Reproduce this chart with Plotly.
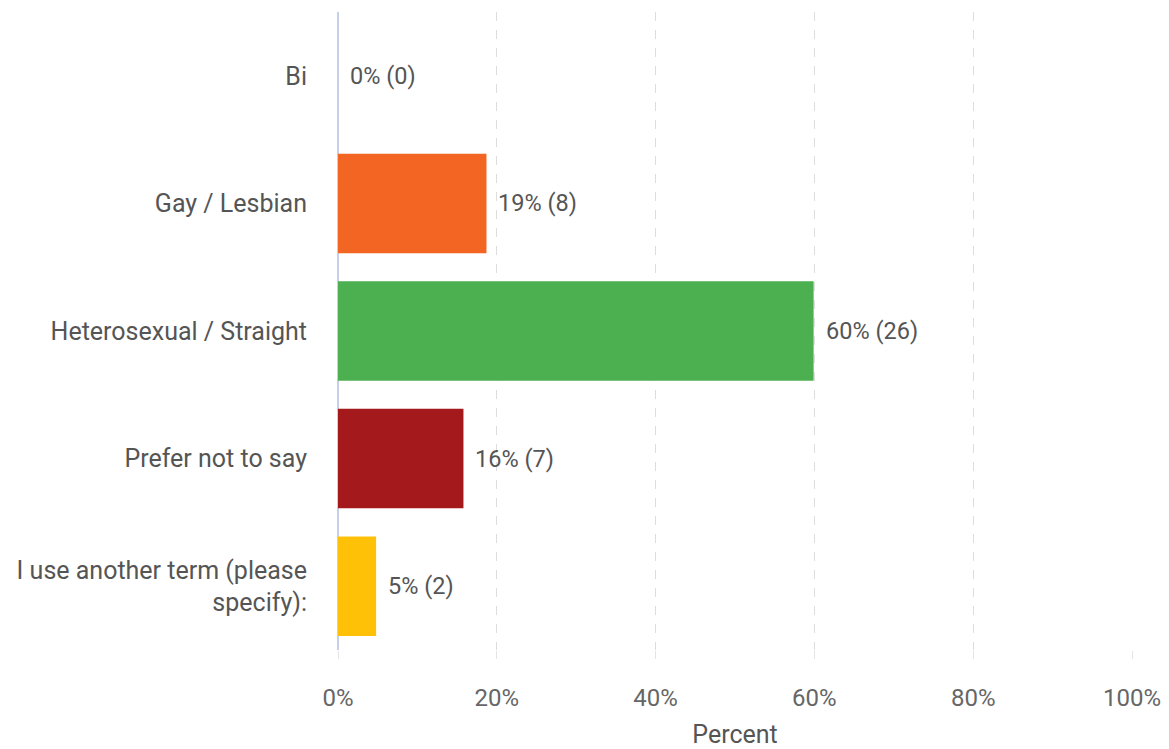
import plotly.graph_objects as go

categories = ["Bi", "Gay / Lesbian", "Heterosexual / Straight", "Prefer not to say",
              "I use another term (please<br>specify):"]
percents = [0.0, 18.7, 59.9, 15.8, 4.8]
counts = [0, 8, 26, 7, 2]
labels = ["0% (0)", "19% (8)", "60% (26)", "16% (7)", "5% (2)"]
colors = ["#3f51b5", "#F26522", "#4CAF50", "#A3191C", "#FFC107"]
xticks = [0, 20, 40, 60, 80, 100]
xticklabels = ["0%", "20%", "40%", "60%", "80%", "100%"]

fig = go.Figure()
fig.add_trace(go.Bar(
    y=categories, x=percents, orientation="h",
    marker=dict(color=colors, line=dict(width=0)),
    hoverinfo="skip",
))
for cat, p, lab in zip(categories, percents, labels):
    fig.add_annotation(x=p, y=cat, text=lab, showarrow=False, xanchor="left",
                       xshift=10, font=dict(family="Roboto", size=23.5, color="#555555"))

fig.update_layout(
    width=1161, height=741,
    margin=dict(l=330, r=37, t=4, b=99),
    paper_bgcolor="white", plot_bgcolor="white",
    bargap=0.22, showlegend=False,
    font=dict(family="Roboto", color="#555555"),
)
fig.update_yaxes(categoryorder="array", categoryarray=categories[::-1],
                 showgrid=False, ticks="", ticklabelstandoff=30,
                 tickfont=dict(family="Roboto", size=25, color="#555555"),
                 showline=False, zeroline=False)
fig.update_xaxes(range=[0, 100], tickvals=xticks, ticktext=xticklabels,
                 showgrid=True, gridcolor="#dddddd", griddash="dash", gridwidth=1,
                 zeroline=True, zerolinecolor="#c5cfe8", zerolinewidth=2,
                 ticks="outside", ticklen=8, tickcolor="#e4e4e4",
                 ticklabelstandoff=18,
                 tickfont=dict(family="Roboto", size=24, color="#666666"),
                 title=dict(text="Percent", font=dict(family="Roboto", size=25, color="#555555"),
                            standoff=16),
                 showline=False)

fig.write_html("out.html")
